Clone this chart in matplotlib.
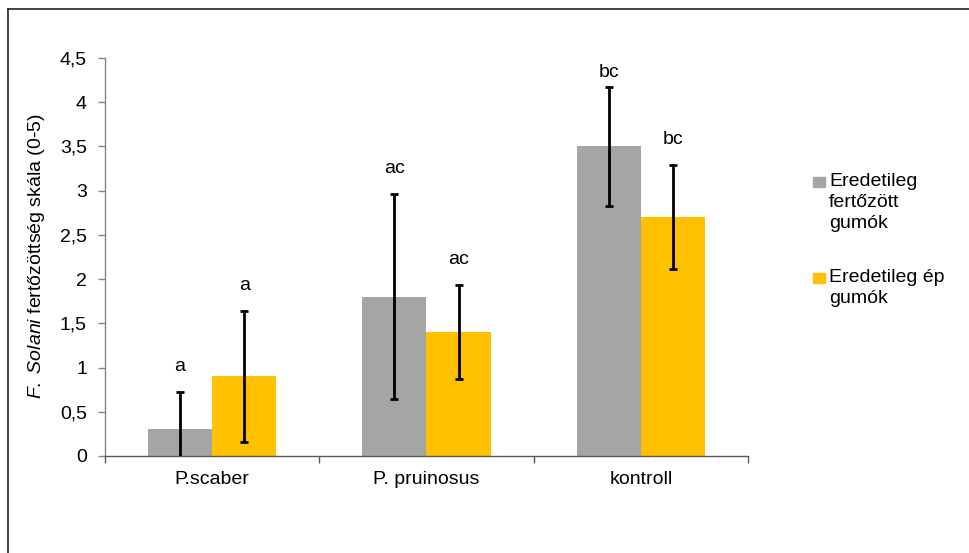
import matplotlib
matplotlib.use("Agg")
import matplotlib.pyplot as plt
import numpy as np
from matplotlib.lines import Line2D
from matplotlib.patches import Rectangle

plt.rcParams['font.family'] = ['Liberation Sans', 'DejaVu Sans']
plt.rcParams['mathtext.fontset'] = 'custom'
plt.rcParams['mathtext.rm'] = 'Liberation Sans'
plt.rcParams['mathtext.it'] = 'Liberation Sans:italic'

categories = ["P.scaber", "P. pruinosus", "kontroll"]
series_names = ["Eredetileg\nfertőzött\ngumók", "Eredetileg ép\ngumók"]
infected = [0.3, 1.8, 3.5]
infected_err = [0.42, 1.16, 0.67]
healthy = [0.9, 1.4, 2.7]
healthy_err = [0.74, 0.53, 0.59]
infected_letters = ["a", "ac", "bc"]
healthy_letters = ["a", "ac", "bc"]
yticks = [0, 0.5, 1, 1.5, 2, 2.5, 3, 3.5, 4, 4.5]
ytick_labels = ["0", "0,5", "1", "1,5", "2", "2,5", "3", "3,5", "4", "4,5"]

colors = ["#A5A5A5", "#FFC000"]
W, H = 970, 553
fig = plt.figure(figsize=(W / 100, H / 100), dpi=100)
ax = fig.add_axes([105 / W, 1 - 456 / H, (748 - 105) / W, (456 - 58) / H])

x = np.arange(len(categories))
bw = 0.3
fs = 14
for i, (vals, errs, letters) in enumerate([(infected, infected_err, infected_letters),
                                          (healthy, healthy_err, healthy_letters)]):
    xs = x + (i - 0.5) * bw
    ax.bar(xs, vals, width=bw, color=colors[i], zorder=2)
    ax.errorbar(xs, vals, yerr=errs, fmt='none', ecolor='black', elinewidth=2.0,
                capsize=3, capthick=2.0, zorder=3)
    for xi, v, e, lab in zip(xs, vals, errs, letters):
        ylab = min(v + e + 0.29, 4.34)
        ax.text(xi, ylab, lab, ha='center', va='center', fontsize=fs, color='black')

ax.set_xlim(-0.5, 2.5)
ax.set_ylim(0, 4.5)
ax.set_yticks(yticks)
ax.set_yticklabels(ytick_labels)
ax.set_xticks(x)
ax.set_xticklabels(categories)
ax.set_xticks([-0.5, 0.5, 1.5, 2.5], minor=True)
ax.tick_params(axis='x', which='major', length=0, pad=11, labelsize=fs)
ax.tick_params(axis='x', which='minor', length=5, width=1, color='#595959', direction='out')
ax.tick_params(axis='y', length=5, width=1, color='#868686', pad=8, labelsize=fs)
for s in ['top', 'right']:
    ax.spines[s].set_visible(False)
ax.spines['left'].set_color('#868686')
ax.spines['bottom'].set_color('#595959')
ax.spines['left'].set_linewidth(1)
ax.spines['bottom'].set_linewidth(1)

fig.text(37 / W, 1 - 256 / H, r"$\it{F.\ Solani}$" + " fertőzöttség skála (0-5)",
         rotation=90, ha='center', va='center', fontsize=fs)

# legend drawn manually
leg_items = [(177, 173, colors[0], series_names[0]), (273, 269, colors[1], series_names[1])]
for ysq, ytop, col, lab in leg_items:
    fig.patches.append(Rectangle((813 / W, 1 - (ysq + 10) / H), 12 / W, 10 / H,
                                 transform=fig.transFigure, color=col))
    fig.text(829 / W, 1 - ytop / H, lab, ha='left', va='top', fontsize=fs,
             linespacing=1.3)

# outer frame (top and left edges)
fig.lines.append(Line2D([8 / W, 1], [1 - 9 / H, 1 - 9 / H], transform=fig.transFigure,
                        color='#222222', lw=1.2))
fig.lines.append(Line2D([8 / W, 8 / W], [1 - 9 / H, 0], transform=fig.transFigure,
                        color='#222222', lw=1.2))

fig.savefig("out.png", dpi=100)
